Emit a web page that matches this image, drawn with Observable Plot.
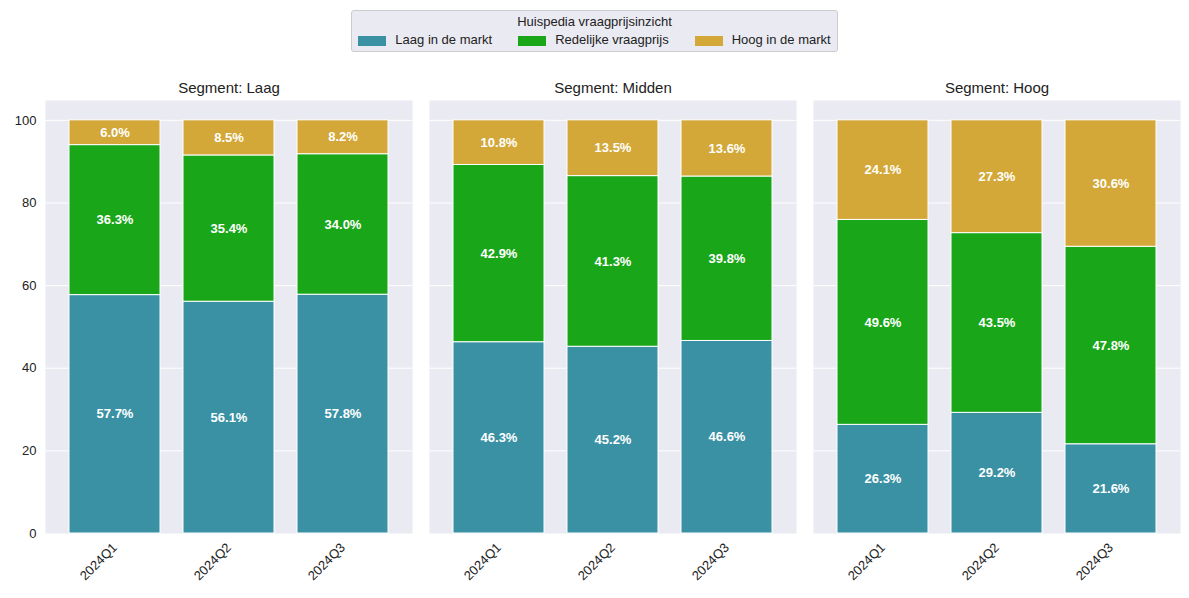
<!DOCTYPE html>
<html><head><meta charset="utf-8">
<script src="https://cdn.jsdelivr.net/npm/d3@7"></script>
<script src="https://cdn.jsdelivr.net/npm/@observablehq/plot@0.6"></script>
<style>
body{margin:0;font-family:"Liberation Sans",Arial,sans-serif;background:#fff;}
#legend{height:66px;display:flex;justify-content:center;align-items:flex-start;}
.box{margin-top:10px;border:1px solid #ccc;border-radius:3px;background:#eaeaf2;padding:3px 6px 4px 6px;font-size:13px;color:#222;text-align:center}
.items{display:flex;gap:26px;margin-top:3px}
.sw{display:inline-block;width:28px;height:10px;margin-right:9px;vertical-align:middle}
</style></head><body>
<div id="legend"></div>
<div id="chart"></div>
<script>
const segments = ["Laag","Midden","Hoog"];
const quarters = ["2024Q1","2024Q2","2024Q3"];
const categories = ["Laag in de markt","Redelijke vraagprijs","Hoog in de markt"];
const colors = ["#3a91a3","#19a619","#d3a838"];
// values[segment][quarter] = [laag, redelijk, hoog]
const laagVals   = [[57.7,36.3,6.0],[56.1,35.4,8.5],[57.8,34.0,8.2]];
const middenVals = [[46.3,42.9,10.8],[45.2,41.3,13.5],[46.6,39.8,13.6]];
const hoogVals   = [[26.3,49.6,24.1],[29.2,43.5,27.3],[21.6,47.8,30.6]];
const allVals = [laagVals, middenVals, hoogVals];
const data = [];
segments.forEach((s,si)=>quarters.forEach((q,qi)=>categories.forEach((c,ci)=>
  data.push({segment:s, quarter:q, cat:c, value:allVals[si][qi][ci]}))));

document.getElementById("legend").innerHTML =
 `<div class="box"><div>Huispedia vraagprijsinzicht</div><div class="items">${
  categories.map((c,i)=>`<span><span class="sw" style="background:${colors[i]}"></span>${c}</span>`).join("")}</div></div>`;

const order = categories;
const chart = Plot.plot({
  width:1189, height:532,
  marginLeft:44, marginRight:9, marginTop:34, marginBottom:65,
  style:{fontFamily:"Liberation Sans, Arial, sans-serif", fontSize:"12px", color:"#222"},
  fx:{domain:segments, padding:0.045, label:null, axis:"top", tickFormat:d=>"Segment: "+d, tickSize:0, tickPadding:8},
  x:{domain:quarters, padding:0.2, label:null, tickRotate:-45, tickSize:0},
  y:{domain:[0,104.8], ticks:[0,20,40,60,80,100], label:null, tickSize:0},
  color:{domain:categories, range:colors},
  marks:[
    Plot.frame({fill:"#eaeaf2", stroke:null}),
    Plot.gridY([20,40,60,80,100],{stroke:"white", strokeOpacity:1, strokeWidth:1}),
    Plot.barY(data, Plot.stackY({x:"quarter", y:"value", fx:"segment", fill:"cat", order, stroke:"white", strokeWidth:1})),
    Plot.text(data, Plot.stackY({x:"quarter", y:"value", fx:"segment", z:"cat", order, text:d=>d.value.toFixed(1)+"%", fill:"white", fontWeight:"bold", fontSize:13}))
  ]
});
document.getElementById("chart").appendChild(chart);
d3.selectAll("#chart [aria-label='fx-axis tick label'] text").attr("font-size",15);
d3.selectAll("#chart [aria-label='x-axis tick label'] text, #chart [aria-label='y-axis tick label'] text").attr("font-size",13);
</script></body></html>
